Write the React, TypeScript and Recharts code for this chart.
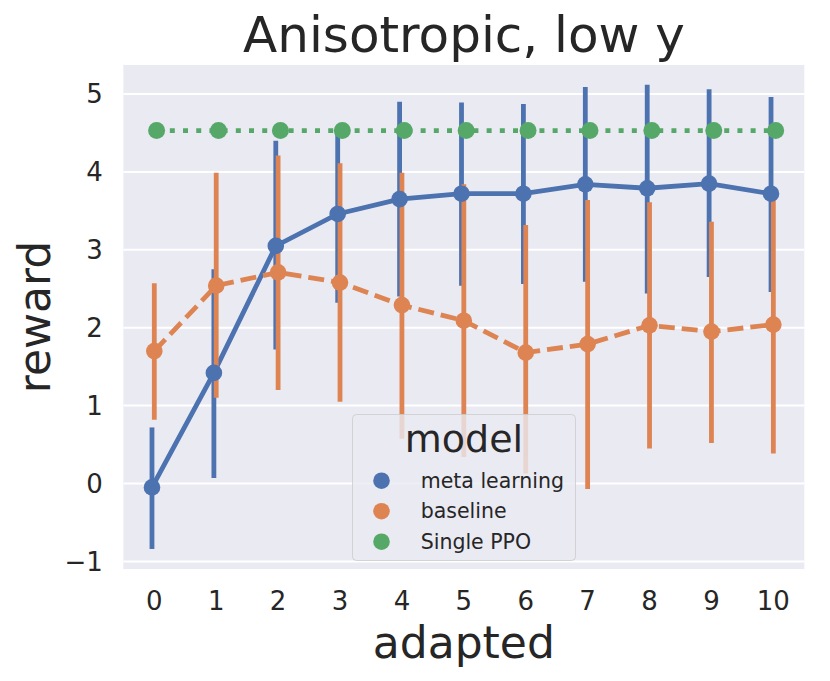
import React from "react";
import { ComposedChart, Line, XAxis, YAxis, CartesianGrid, ErrorBar, Legend, Label } from "recharts";

const adapted = [0, 1, 2, 3, 4, 5, 6, 7, 8, 9, 10];
const models = ["meta learning", "baseline", "Single PPO"];

const metaMean = [-0.05, 1.42, 3.05, 3.46, 3.65, 3.72, 3.72, 3.84, 3.79, 3.85, 3.72];
const metaLow = [-0.84, 0.07, 1.72, 2.32, 2.4, 2.54, 2.56, 2.59, 2.44, 2.65, 2.46];
const metaHigh = [0.72, 2.75, 4.4, 4.5, 4.9, 4.89, 4.87, 5.09, 5.12, 5.06, 4.96];

const baseMean = [1.7, 2.54, 2.71, 2.58, 2.29, 2.09, 1.68, 1.79, 2.03, 1.95, 2.04];
const baseLow = [0.82, 1.1, 1.2, 1.05, 0.575, 0.34, 0.13, -0.07, 0.45, 0.52, 0.385];
const baseHigh = [2.57, 3.99, 4.21, 4.11, 3.99, 3.84, 3.32, 3.64, 3.61, 3.36, 3.71];

const ppoMean = [4.53, 4.53, 4.53, 4.53, 4.53, 4.53, 4.53, 4.53, 4.53, 4.53, 4.53];

const yTicks = [-1, 0, 1, 2, 3, 4, 5];

const BLUE = "#4c72b0";
const ORANGE = "#dd8452";
const GREEN = "#55a868";
const TEXT = "#262626";
const FONT = "DejaVu Sans";

// seaborn pointplot dodge for 3 hue levels
const DODGE = [-0.0375, 0, 0.0375];

function rows(mean: number[], offset: number, low?: number[], high?: number[]) {
  return adapted.map((a, i) => ({
    x: a + offset,
    y: mean[i],
    err: low && high ? [mean[i] - low[i], high[i] - mean[i]] : [0, 0],
  }));
}

const metaRows = rows(metaMean, DODGE[0], metaLow, metaHigh);
const baseRows = rows(baseMean, DODGE[1], baseLow, baseHigh);
const ppoRows = rows(ppoMean, DODGE[2]);

const fmtY = (v: number) => (v < 0 ? `\u2212${-v}` : `${v}`);

function LegendBox(props: any) {
  const items = [...(props.payload || [])].sort(
    (a: any, b: any) => models.indexOf(a.value) - models.indexOf(b.value)
  );
  return (
    <svg width={224} height={147} style={{ display: "block" }}>
      <rect x={0.5} y={0.5} width={223} height={146} rx={4} fill="#eaeaf2" fillOpacity={0.8} stroke="#cccccc" strokeOpacity={0.8} />
      <text x={112} y={38} textAnchor="middle" fontSize={38} fill={TEXT} fontFamily={FONT}>
        model
      </text>
      {items.map((it: any, i: number) => (
        <g key={i}>
          <circle cx={29.5} cy={66.7 + i * 30.5} r={8.3} fill={it.color} />
          <text x={68.7} y={73.5 + i * 30.5} fontSize={20.5} fill={TEXT} fontFamily={FONT}>
            {it.value}
          </text>
        </g>
      ))}
    </svg>
  );
}

export default function App() {
  return (
    <div style={{ position: "absolute", left: 0, top: 0, width: 830, height: 681, background: "#fff", fontFamily: FONT }}>
      <ComposedChart width={830} height={681} margin={{ top: 64, right: 25.7, left: 0, bottom: 0 }}>
        <CartesianGrid vertical={false} stroke="#ffffff" strokeWidth={2} fill="#eaeaf2" />
        <XAxis
          type="number"
          dataKey="x"
          domain={[-0.5, 10.5]}
          ticks={adapted}
          interval={0}
          allowDataOverflow
          axisLine={false}
          tickLine={false}
          tickSize={0}
          tickMargin={21.5}
          height={111}
          tick={{ fontSize: 26, fill: TEXT, fontFamily: FONT }}
        >
          <Label
            content={({ viewBox }: any) => (
              <text x={viewBox.x + viewBox.width / 2} y={658.3} textAnchor="middle" fontSize={44} fill={TEXT} fontFamily={FONT}>
                adapted
              </text>
            )}
          />
        </XAxis>
        <YAxis
          type="number"
          domain={[-1.11, 5.385]}
          ticks={yTicks}
          allowDataOverflow
          tickFormatter={fmtY}
          axisLine={false}
          tickLine={false}
          tickSize={0}
          tickMargin={20.5}
          width={123.35}
          tick={{ fontSize: 26, fill: TEXT, fontFamily: FONT }}
        >
          <Label
            content={({ viewBox }: any) => {
              const cy = viewBox.y + viewBox.height / 2;
              return (
                <text x={50} y={cy} transform={`rotate(-90, 50, ${cy})`} textAnchor="middle" fontSize={44} fill={TEXT} fontFamily={FONT}>
                  reward
                </text>
              );
            }}
          />
        </YAxis>
        <Line
          data={metaRows}
          dataKey="y"
          name={models[0]}
          stroke={BLUE}
          strokeWidth={4.8}
          dot={{ r: 8.3, fill: BLUE, stroke: BLUE, strokeWidth: 0 }}
          activeDot={false}
          isAnimationActive={false}
        >
          <ErrorBar dataKey="err" direction="y" width={0} stroke={BLUE} strokeWidth={4.8} />
        </Line>
        <Line
          data={baseRows}
          dataKey="y"
          name={models[1]}
          stroke={ORANGE}
          strokeWidth={4.8}
          strokeDasharray="16 7"
          dot={{ r: 8.3, fill: ORANGE, stroke: ORANGE, strokeWidth: 0, strokeDasharray: "0" }}
          activeDot={false}
          isAnimationActive={false}
        >
          <ErrorBar dataKey="err" direction="y" width={0} stroke={ORANGE} strokeWidth={4.8} />
        </Line>
        <Line
          data={ppoRows}
          dataKey="y"
          name={models[2]}
          stroke={GREEN}
          strokeWidth={4.8}
          strokeDasharray="5 8.2"
          dot={{ r: 8.5, fill: GREEN, stroke: GREEN, strokeWidth: 0, strokeDasharray: "0" }}
          activeDot={false}
          isAnimationActive={false}
        />
        <Legend
          layout="horizontal"
          verticalAlign="middle"
          align="center"
          content={<LegendBox />}
          wrapperStyle={{ left: 352, top: 414, width: 224, height: 147 }}
        />
      </ComposedChart>
      <svg width={830} height={70} style={{ position: "absolute", left: 0, top: 0, pointerEvents: "none" }}>
        <text x={464} y={52.3} textAnchor="middle" fontSize={50} fill={TEXT} fontFamily={FONT}>
          Anisotropic, low y
        </text>
      </svg>
    </div>
  );
}
